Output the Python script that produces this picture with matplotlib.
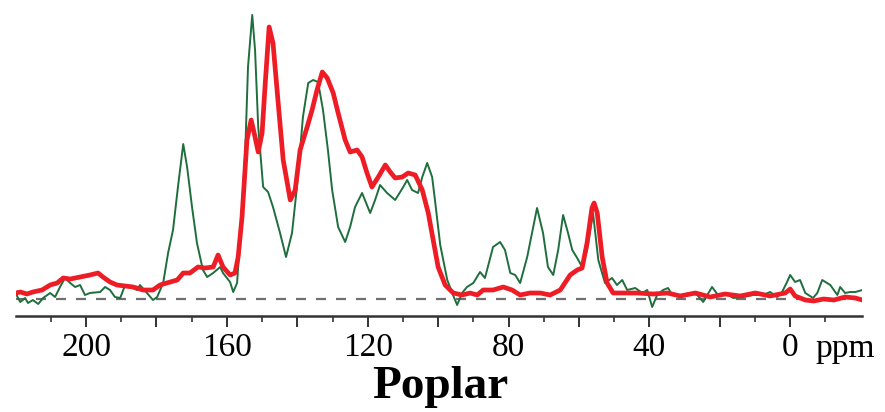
import matplotlib
matplotlib.use("Agg")
import matplotlib.pyplot as plt
from matplotlib.ticker import FixedLocator, FuncFormatter
import numpy as np

# ---- data (ppm, relative intensity) ----
green_ppm = [219.9, 218.7, 217.3, 216.5, 215.1, 213.6, 212.2, 210.2, 208.8, 207.4, 206.0, 204.5, 203.1,
             201.7, 200.3, 198.9, 196.0, 194.6, 193.2, 191.8, 190.3, 188.9, 187.5, 185.5, 184.7, 182.7,
             181.0, 179.8, 178.1, 176.7, 175.3, 173.9, 172.4, 171.3, 169.9, 168.5, 166.8, 165.6, 163.9,
             161.9, 161.1, 159.1, 158.2, 157.1, 156.3, 154.8, 154.0, 152.8, 152.0, 151.1, 149.7, 148.3,
             146.9, 144.9, 143.2, 141.5, 140.1, 138.4, 136.9, 135.5, 134.1, 132.7, 131.3, 130.1, 128.4,
             126.4, 125.0, 123.6, 121.6, 119.3, 117.9, 116.5, 114.5, 112.2, 109.9, 108.8, 107.4, 105.7,
             104.5, 103.1, 101.7, 100.9, 99.4, 97.4, 96.0, 94.6, 93.2, 91.8, 90.0, 88.1, 86.7, 84.4,
             82.4, 81.0, 79.5, 78.1, 76.7, 74.7, 71.9, 70.2, 68.8, 67.3, 65.9, 64.5, 63.1, 61.9, 60.5,
             59.1, 57.7, 56.0, 54.5, 52.6, 50.6, 49.2, 47.7, 46.3, 44.0, 42.0, 40.6, 39.2, 37.8, 36.1,
             34.7, 33.5, 31.2, 28.4, 26.4, 24.7, 22.2, 20.5, 18.5, 16.2, 13.4, 10.5, 7.7, 5.7, 3.7,
             2.3, 0.9, 0.0, -1.4, -2.8, -4.3, -6.5, -7.7, -9.1, -11.4, -13.4, -14.2, -15.6, -17.0,
             -18.5, -20.5]
green_int = [5, -3, 1, -4, -1, -5, 1, 6, 2, 12, 21, 16, 12,
             14, 4, 6, 7, 12, 9, 2, 1, 14, 12, 9, 14, 6,
             -1, 2, 16, 46, 69, 112, 155, 132, 92, 56, 29, 22, 26,
             32, 26, 17, 7, 16, 59, 146, 232, 284, 249, 172, 112, 107,
             92, 66, 42, 66, 112, 182, 216, 219, 217, 189, 149, 109, 72,
             57, 72, 92, 106, 86, 99, 114, 106, 99, 112, 119, 109, 106,
             122, 136, 122, 99, 54, 19, 6, -6, 6, 12, 16, 27, 21, 52,
             57, 49, 26, 24, 16, 42, 91, 66, 32, 24, 49, 84, 66, 49, 41,
             32, 49, 86, 39, 16, 21, 14, 19, 9, 11, 6, 9, -8, 4, 9,
             11, 4, 4, 6, 4, -3, 12, 4, 6, 1, 2, 4, 4, 7, 2,
             7, 17, 24, 17, 19, 6, 1, 6, 19, 14, 4, 12, 6, 7,
             7, 9]

red_ppm = [219.9, 218.7, 216.8, 215.1, 212.5, 210.2, 208.2, 206.5, 204.5, 201.7, 198.9, 196.6, 195.2,
           193.2, 191.2, 188.9, 186.6, 183.8, 181.0, 179.0, 176.1, 174.1, 172.4, 170.5, 168.2, 166.2,
           163.9, 162.5, 161.1, 159.1, 157.7, 156.8, 155.7, 154.3, 153.1, 152.0, 151.1, 150.0, 149.1,
           148.0, 146.9, 145.5, 144.0, 142.0, 140.6, 139.2, 138.6, 137.2, 135.8, 134.4, 132.9, 131.5,
           129.8, 128.4, 126.4, 125.0, 123.0, 121.6, 120.2, 118.8, 117.0, 115.0, 113.6, 112.2, 110.2,
           108.5, 106.5, 104.5, 102.8, 101.4, 100.0, 98.0, 95.7, 93.2, 90.9, 88.9, 87.2, 84.4, 81.5,
           79.0, 76.7, 73.9, 71.0, 68.2, 65.3, 62.5, 60.5, 59.1, 57.7, 56.3, 55.7, 54.8, 53.4, 52.0,
           50.3, 47.5, 43.5, 38.9, 34.9, 31.2, 26.9, 22.7, 18.5, 14.2, 9.9, 5.7, 1.4, 0.0, -1.4,
           -4.3, -6.7, -9.5, -12.4, -15.6, -18.5, -20.5]
red_int = [6, 7, 5, 7, 9, 14, 16, 21, 20, 22, 24, 26, 22,
           17, 14, 13, 12, 9, 9, 14, 17, 19, 26, 26, 32, 31,
           32, 44, 32, 24, 26, 42, 82, 159, 179, 162, 147, 166, 216,
           272, 256, 199, 139, 99, 109, 149, 156, 172, 189, 209, 227, 221,
           206, 186, 159, 147, 149, 142, 126, 112, 122, 134, 127, 121, 122,
           126, 124, 109, 86, 59, 32, 14, 6, 4, 6, 4, 9, 9, 12,
           9, 4, 6, 6, 4, 9, 24, 29, 31, 56, 91, 96, 86, 42, 16,
           6, 6, 6, 5, 6, 3, 6, 2, 5, 3, 6, 3, 6, 10, 3,
           -1, -2, 0, -1, 2, 1, -1]

major_ticks = [200, 180, 160, 140, 120, 100, 80, 60, 40, 20, 0]
minor_ticks = [210, 190, 170, 150, 130, 110, 90, 70, 50, 30, 10, -10]
labeled_ticks = [200, 160, 120, 80, 40, 0]

W, H = 885, 412
fig = plt.figure(figsize=(W / 100, H / 100), dpi=100)
ax = fig.add_axes([16 / W, 1 - 316 / H, (862 - 16) / W, 316 / H])

ax.axhline(0, color="#707070", lw=1.6, ls=(0, (4.5, 4.5)), zorder=1)
ax.plot(green_ppm, green_int, color="#1f6e3d", lw=1.4, zorder=2, solid_joinstyle="round")
ax.plot(red_ppm, red_int, color="#ee1c25", lw=3.4, zorder=3, solid_joinstyle="round",
        solid_capstyle="round")

ax.set_xlim(219.9, -20.4)
ax.set_ylim(-17, 299)

for s in ["top", "left", "right"]:
    ax.spines[s].set_visible(False)
ax.spines["bottom"].set_color("#333333")
ax.spines["bottom"].set_linewidth(1.8)
ax.set_yticks([])

ax.xaxis.set_major_locator(FixedLocator(major_ticks))
ax.xaxis.set_minor_locator(FixedLocator(minor_ticks))
ax.xaxis.set_major_formatter(FuncFormatter(lambda v, p: f"{int(v)}" if int(v) in labeled_ticks else ""))
ax.tick_params(axis="x", which="major", length=8, width=1.4, color="#333333", pad=4,
               labelsize=24)
ax.tick_params(axis="x", which="minor", length=4.5, width=1.2, color="#333333")
for lbl in ax.get_xticklabels():
    lbl.set_fontfamily("Liberation Serif")

ax.text(-7.3, -(357 - 316) / 316, "ppm", transform=ax.get_xaxis_transform(), ha="left",
        va="baseline", fontsize=24, family="Liberation Serif")

fig.text(440 / W, 1 - 398 / H, "Poplar", ha="center", va="baseline", fontsize=34,
         fontweight="bold", family="Liberation Serif")

fig.savefig("out.png", dpi=100)
